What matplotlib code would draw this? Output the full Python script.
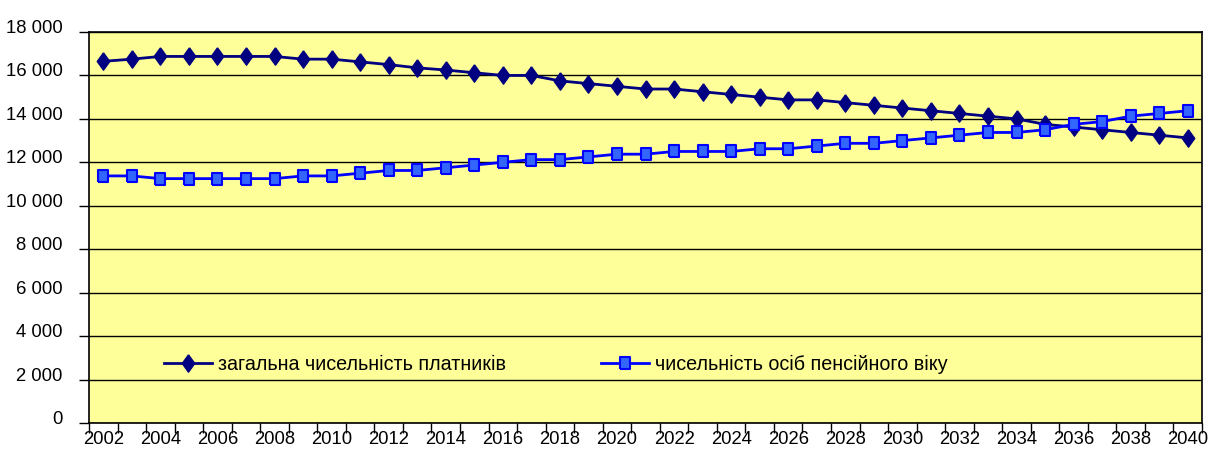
import numpy as np
import matplotlib
matplotlib.use('Agg')
import matplotlib.pyplot as plt
from matplotlib.ticker import FixedLocator, FuncFormatter

plt.rcParams['font.family'] = ['Liberation Sans', 'DejaVu Sans']

years = list(range(2002, 2041))
payers = [16650, 16750, 16875, 16875, 16875, 16875, 16875, 16750, 16750, 16625,
          16500, 16350, 16250, 16125, 16000, 16000, 15750, 15625, 15500, 15375,
          15375, 15250, 15125, 15000, 14875, 14875, 14750, 14625, 14500, 14375,
          14250, 14125, 14000, 13750, 13625, 13500, 13375, 13250, 13125]
pensioners = [11375, 11375, 11250, 11250, 11250, 11250, 11250, 11375, 11375, 11500,
              11625, 11625, 11750, 11875, 12000, 12125, 12125, 12250, 12375, 12375,
              12500, 12500, 12500, 12625, 12625, 12750, 12875, 12875, 13000, 13125,
              13250, 13375, 13375, 13500, 13750, 13875, 14125, 14250, 14375]
labels = ['загальна чисельність платників', 'чисельність осіб пенсійного віку']

tick_fs = 13.3
legend_fs = 14.2
x = np.arange(len(years))

fig = plt.figure(figsize=(12.14, 4.52), dpi=100)
ax = fig.add_axes([89 / 1214, 1 - 424 / 452, (1202 - 89) / 1214, (424 - 33) / 452])
ax.set_facecolor('#FFFF99')

# marker shapes as in the original (tall diamond, upright rectangle)
diamond = [(0, 1), (0.72, 0), (0, -1), (-0.72, 0), (0, 1)]
rect = [(-0.8, -1), (0.8, -1), (0.8, 1), (-0.8, 1), (-0.8, -1)]

ax.plot(x, payers, color='#000080', lw=2, marker=diamond, markersize=12.5,
        markerfacecolor='#000080', markeredgecolor='#000080', label=labels[0], zorder=3)
ax.plot(x, pensioners, color='#0000FF', lw=2, marker=rect, markersize=8.5,
        markerfacecolor='#3366FF', markeredgecolor='#0000FF', markeredgewidth=1.5,
        label=labels[1], zorder=3)

ax.set_ylim(0, 18000)
ax.set_xlim(-0.5, len(years) - 0.5)
ax.set_yticks(np.arange(0, 18001, 2000))
ax.yaxis.set_major_formatter(FuncFormatter(lambda v, p: f'{int(v):,}'.replace(',', ' ')))
ax.grid(axis='y', color='black', lw=1)
ax.set_axisbelow(True)

# ticks between categories, labels on every other category
ax.xaxis.set_major_locator(FixedLocator(np.arange(-0.5, len(years), 1)))
ax.xaxis.set_major_formatter(FuncFormatter(lambda v, p: ''))
ax.xaxis.set_minor_locator(FixedLocator(x[::2]))
ax.set_xticklabels([str(y) for y in years[::2]], minor=True)
ax.tick_params(axis='x', which='major', length=7, width=1, direction='out')
ax.tick_params(axis='x', which='minor', length=0, pad=5, labelsize=tick_fs)
ax.tick_params(axis='y', length=7, width=1, direction='out', pad=12, labelsize=tick_fs)
for t in ax.get_yticklabels():
    t.set_va('baseline')

for s in ax.spines.values():
    s.set_color('black')
    s.set_linewidth(1.2)

ax.legend(loc='center left', bbox_to_anchor=(0.0674, 0.151), ncol=2, frameon=False,
          fontsize=legend_fs, handlelength=2.44, handletextpad=0.3, columnspacing=4.8,
          borderaxespad=0, borderpad=0)

fig.savefig('out.png', dpi=100)
